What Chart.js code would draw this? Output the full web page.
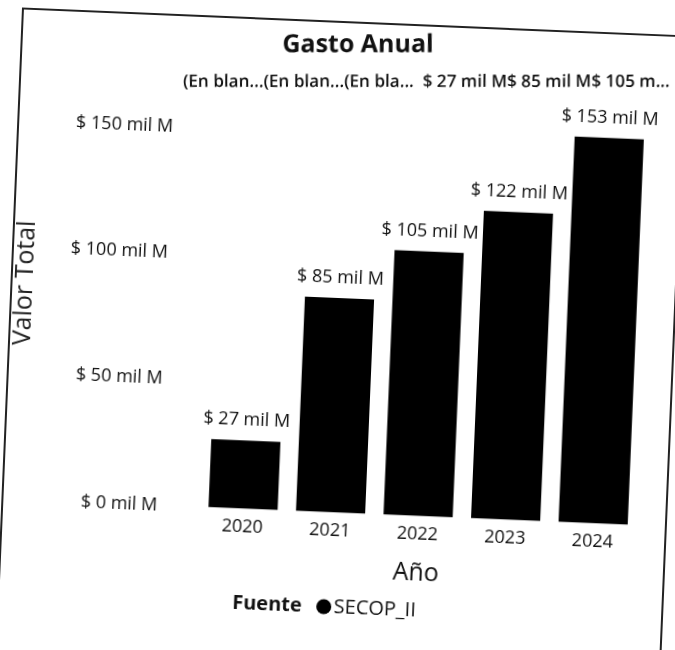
<!DOCTYPE html>
<html><head><meta charset="utf-8">
<script src="https://cdn.jsdelivr.net/npm/chart.js@4.4.0/dist/chart.umd.min.js"></script>
<style>
html,body{margin:0;padding:0;background:#fff;overflow:hidden;width:675px;height:650px}
#wrap{position:absolute;left:0;top:0;width:675px;height:650px;transform:rotate(2.4deg);transform-origin:337.5px 325px}
#frame{position:absolute;left:9px;top:21px;width:666px;height:720px;border:2px solid #222;box-sizing:border-box}
canvas{position:absolute;left:0;top:0}
</style></head><body>
<div id="wrap"><div id="frame"></div><canvas id="c" width="675" height="650"></canvas></div>
<script>
// ---- data ----
const chartTitle = 'Gasto Anual';
const headerRow = '(En blan...(En blan...(En bla...  $ 27 mil M$ 85 mil M$ 105 m...';
const years = ['2020', '2021', '2022', '2023', '2024'];
const values = [27, 85, 105, 122, 153]; // miles de millones
const yTickValues = [0, 50, 100, 150];
const seriesName = 'SECOP_II';
const legendTitle = 'Fuente';
const yAxisTitle = 'Valor Total';
const xAxisTitle = 'Año';
function fmt(v) { return '$ ' + v + ' mil M'; }

// ---- rendering ----
const F = "'Open Sans', 'Noto Sans', sans-serif";
const INK = '#111';
const ROT = 2.4 * Math.PI / 180;
function toCanvas(sx, sy) {
  const dx = sx - 337.5, dy = sy - 325;
  return [337.5 + dx * Math.cos(ROT) + dy * Math.sin(ROT), 325 - dx * Math.sin(ROT) + dy * Math.cos(ROT)];
}

const overlay = {
  id: 'overlay',
  afterDatasetsDraw(chart) {
    const c = chart.ctx;
    const meta = chart.getDatasetMeta(0);
    c.save();
    c.fillStyle = INK;
    // data labels
    c.font = '18px ' + F;
    c.textAlign = 'center';
    c.textBaseline = 'middle';
    meta.data.forEach((bar, i) => c.fillText(fmt(values[i]), bar.x, bar.y - 20));
    // y axis title
    c.save(); c.translate(23.5, 296); c.rotate(-Math.PI / 2);
    c.fillStyle = '#222'; c.font = '25px ' + F; c.textAlign = 'center';
    c.fillText(yAxisTitle, 0, 0); c.restore();
    // title (kept level on screen)
    let p = toCanvas(358, 45);
    c.save(); c.translate(p[0], p[1]); c.rotate(-ROT);
    c.font = 'bold 25px ' + F; c.textAlign = 'center';
    c.fillText(chartTitle, 0, 0); c.restore();
    // header row
    p = toCanvas(183, 82);
    c.save(); c.translate(p[0], p[1]); c.rotate(-ROT);
    c.font = '600 16px ' + F;
    const w = c.measureText(headerRow).width;
    const fs = 16 * 487 / w;
    c.font = '600 ' + fs.toFixed(2) + 'px ' + F; c.textAlign = 'left';
    c.fillText(headerRow, 0, 0); c.restore();
    // legend
    let x = 244, y = 607;
    c.textAlign = 'left';
    c.font = 'bold 20px ' + F;
    c.fillText(legendTitle, x, y);
    x += c.measureText(legendTitle).width + 15;
    c.fillStyle = '#000';
    c.beginPath(); c.arc(x + 7, y, 7.5, 0, Math.PI * 2); c.fill();
    x += 17;
    c.fillStyle = INK;
    c.font = '20px ' + F;
    c.fillText(seriesName, x, y);
    c.restore();
  }
};

new Chart(document.getElementById('c'), {
  type: 'bar',
  data: {
    labels: years,
    datasets: [{ label: seriesName, data: values, backgroundColor: '#000', borderWidth: 0,
      barPercentage: 0.79, categoryPercentage: 1 }]
  },
  options: {
    responsive: false,
    animation: false,
    devicePixelRatio: 1,
    layout: { padding: { top: 109, left: 5, right: 30, bottom: 65 } },
    plugins: { legend: { display: false }, title: { display: false }, tooltip: { enabled: false } },
    scales: {
      x: {
        grid: { display: false, drawTicks: false }, border: { display: false },
        ticks: { padding: 8, color: INK, font: { family: F, size: 18 } },
        title: { display: true, text: xAxisTitle, color: INK, font: { family: F, size: 25 }, padding: { top: 5, bottom: 0 } }
      },
      y: {
        min: 0, max: 160,
        grid: { display: false, drawTicks: false }, border: { display: false },
        afterBuildTicks: s => { s.ticks = yTickValues.map(v => ({ value: v })); },
        afterFit: s => { s.width = 202; },
        ticks: { padding: 42, color: INK, font: { family: F, size: 18 }, callback: v => fmt(v) },
        title: { display: false }
      }
    }
  },
  plugins: [overlay]
});
</script>
</body></html>
